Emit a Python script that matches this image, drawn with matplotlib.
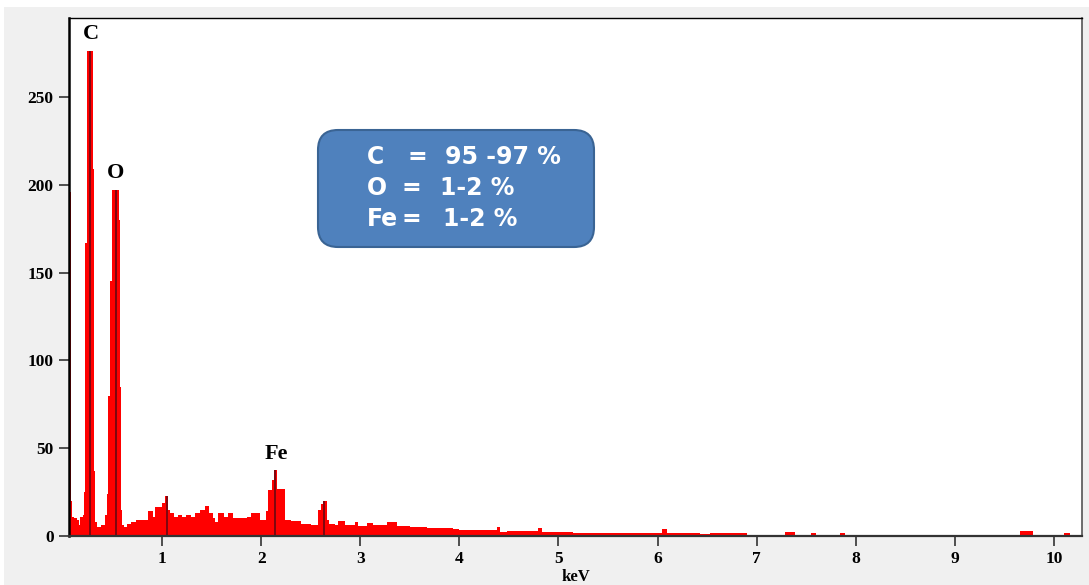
import numpy as np
import matplotlib
matplotlib.use("Agg")
import matplotlib.pyplot as plt
from matplotlib.patches import FancyBboxPatch, Rectangle

# EDS spectrum: step starts (keV) and counts
kev_start = [0.050, 0.078, 0.086, 0.110, 0.140, 0.160, 0.175, 0.200, 0.212, 0.225,
             0.240, 0.300, 0.315, 0.322, 0.340, 0.380, 0.420, 0.440, 0.455, 0.470,
             0.495, 0.565, 0.575, 0.585, 0.595, 0.620, 0.650, 0.690, 0.740, 0.800,
             0.860, 0.910, 0.930, 1.000, 1.030, 1.055, 1.080, 1.120, 1.160, 1.200,
             1.240, 1.290, 1.330, 1.380, 1.433, 1.476, 1.510, 1.530, 1.560, 1.620,
             1.660, 1.720, 1.800, 1.860, 1.900, 1.990, 2.045, 2.065, 2.110, 2.125,
             2.155, 2.240, 2.300, 2.400, 2.500, 2.575, 2.600, 2.625, 2.660, 2.680,
             2.740, 2.780, 2.850, 2.950, 2.980, 3.070, 3.130, 3.270, 3.370, 3.500,
             3.670, 3.940, 4.000, 4.380, 4.410, 4.480, 4.790, 4.830, 5.150, 5.490,
             6.040, 6.100, 6.430, 6.530, 6.900, 7.290, 7.390, 7.550, 7.600, 7.840,
             7.890, 8.500, 9.000, 9.660, 9.790, 10.100, 10.160]
counts = [196, 20, 11, 10, 9, 6, 11, 12, 25, 167,
          276, 209, 37, 8, 5, 6, 12, 24, 80, 145,
          197, 180, 85, 15, 6, 5, 7, 8, 9, 9,
          14, 11, 16.5, 19, 22.7, 15, 13, 11, 12, 11,
          12, 11, 13, 15, 17, 13, 10, 8, 13, 11,
          13, 10, 10, 11, 13, 9, 14, 26, 32, 37.6,
          27, 9, 8.7, 7, 6.5, 15, 18, 20, 9, 7,
          6, 8.7, 6.3, 8.2, 5.7, 7.2, 6.3, 7.8, 5.7, 5.3,
          4.8, 3.8, 3.4, 5, 2.5, 2.9, 4.4, 2.1, 1.9, 1.5,
          4.2, 1.5, 1.0, 1.5, 0.8, 2.2, 0.8, 1.6, 0.8, 1.5,
          0.8, 0.7, 0.6, 3.0, 0.7, 1.5, 0.6]
kev_end = 10.283

# element peak markers
peak_kev = [0.277, 0.530, 1.045, 2.14, 2.63]
peak_cts = [276, 197, 22.7, 37.6, 20]
labels = ["C", "O", "Fe"]
label_kev = [0.277, 0.53, 2.15]
label_cts = [283, 204, 44]

# info box: (text, x pixel) per token, one list per line
box_rows = [[("C", 367), ("=", 407), ("95 -97 %", 445)],
            [("O", 367), ("=", 401), ("1-2 %", 440)],
            [("Fe", 367), ("=", 402), ("1-2 %", 443)]]
box_row_y = [157, 188, 219]

W, H = 1089, 585
fig = plt.figure(figsize=(W / 100, H / 100), dpi=100)
fig.patch.set_facecolor("white")
fig.patches.append(Rectangle((4 / W, 0), 1, 1 - 7 / H, transform=fig.transFigure,
                             facecolor="#f0f0f0", edgecolor="none", zorder=-10))

ax = fig.add_axes([69 / W, 1 - 536 / H, (1082 - 69) / W, (536 - 18) / H])
ax.set_facecolor("white")

edges = np.array(kev_start + [kev_end])
ax.stairs(counts, edges, fill=True, color="#ff0000", baseline=0)
ax.vlines(peak_kev, 0, peak_cts, color="#5a0a14", lw=1.1)

serif = ["Liberation Serif", "DejaVu Serif"]
for t, xk, yc in zip(labels, label_kev, label_cts):
    ax.text(xk, yc, t, ha="center", va="baseline", fontsize=16, fontweight="bold",
            family=serif)

ax.set_xlim(0.0605, kev_end)
ax.set_ylim(0, 295)
ax.set_xticks(range(1, 11))
ax.set_yticks([0, 50, 100, 150, 200, 250])
ax.tick_params(direction="out", length=7, width=1.2, color="#333333", pad=4)
for lab in ax.get_xticklabels() + ax.get_yticklabels():
    lab.set_family(serif)
    lab.set_fontweight("bold")
    lab.set_fontsize(12.5)
ax.set_xlabel("keV", family=serif, fontweight="bold", fontsize=12, labelpad=1)

ax.spines["left"].set_linewidth(1.8)
ax.spines["bottom"].set_linewidth(1.6)
ax.spines["bottom"].set_color("#333333")
ax.spines["top"].set_linewidth(1.0)
ax.spines["right"].set_linewidth(1.2)
ax.spines["right"].set_color("#555555")

# rounded info box (inch coordinates)
box = FancyBboxPatch((3.18, 3.38), 2.76, 1.17,
                     boxstyle="round,pad=0,rounding_size=0.2",
                     transform=fig.dpi_scale_trans, facecolor="#4f81bd",
                     edgecolor="#3a6494", lw=1.5, zorder=5)
fig.patches.append(box)
for row, yp in zip(box_rows, box_row_y):
    for tok, xp in row:
        fig.text(xp / W, 1 - yp / H, tok, color="white", fontsize=17,
                 fontweight="bold", family="DejaVu Sans",
                 va="center", ha="left", zorder=6)

fig.savefig("out.png", dpi=100)
